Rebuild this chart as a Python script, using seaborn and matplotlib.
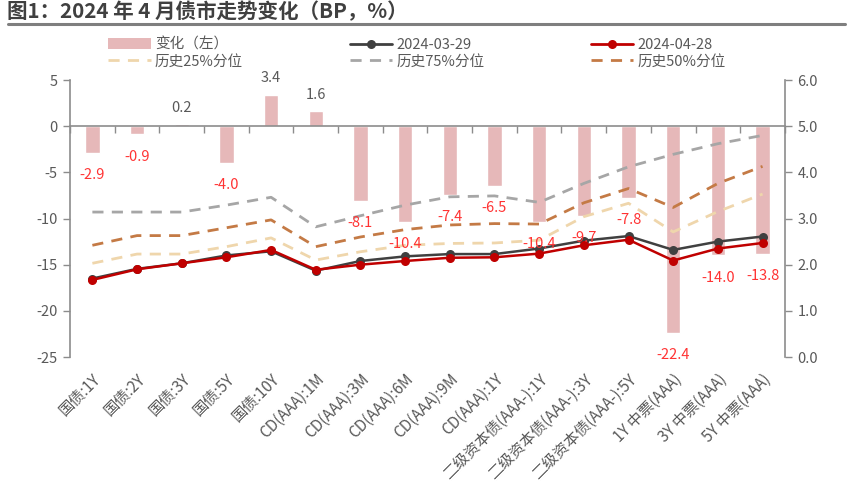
import matplotlib
matplotlib.use("Agg")
import matplotlib.pyplot as plt
import numpy as np
import pandas as pd
import seaborn as sns
from matplotlib.lines import Line2D
from matplotlib.patches import Patch
from matplotlib.ticker import FormatStrFormatter

# ---- data ----
categories = [
    "国债:1Y", "国债:2Y", "国债:3Y", "国债:5Y", "国债:10Y",
    "CD(AAA):1M", "CD(AAA):3M", "CD(AAA):6M", "CD(AAA):9M", "CD(AAA):1Y",
    "二级资本债(AAA-):1Y", "二级资本债(AAA-):3Y", "二级资本债(AAA-):5Y",
    "1Y 中票(AAA)", "3Y 中票(AAA)", "5Y 中票(AAA)",
]
change_bp = [-2.9, -0.9, 0.2, -4.0, 3.4, 1.6, -8.1, -10.4, -7.4, -6.5,
             -10.4, -9.7, -7.8, -22.4, -14.0, -13.8]
yield_0329 = [1.70, 1.91, 2.03, 2.20, 2.29, 1.87, 2.08, 2.18, 2.23, 2.23,
              2.35, 2.52, 2.62, 2.32, 2.50, 2.61]
yield_0428 = [1.67, 1.90, 2.03, 2.16, 2.32, 1.89, 2.00, 2.08, 2.15, 2.16,
              2.24, 2.42, 2.54, 2.09, 2.35, 2.47]
pct25 = [2.03, 2.23, 2.23, 2.39, 2.58, 2.10, 2.28, 2.42, 2.46, 2.47,
         2.53, 3.04, 3.33, 2.71, 3.15, 3.53]
pct75 = [3.14, 3.14, 3.14, 3.29, 3.46, 2.82, 3.06, 3.29, 3.47, 3.49,
         3.35, 3.76, 4.12, 4.39, 4.62, 4.80]
pct50 = [2.42, 2.63, 2.63, 2.80, 2.97, 2.39, 2.60, 2.76, 2.86, 2.89,
         2.88, 3.34, 3.65, 3.24, 3.76, 4.13]

BAR_C = "#E6B8B9"
DARK_C = "#404040"
RED_C = "#C00000"
P25_C = "#EFD6AC"
P75_C = "#A6A6A6"
P50_C = "#C47A45"
AXIS_C = "#8C8C8C"
TEXT_C = "#595959"

sns.set_theme(style="ticks")
plt.rcParams["font.family"] = ["Noto Sans CJK SC", "DejaVu Sans"]
plt.rcParams["axes.unicode_minus"] = False

df = pd.DataFrame({"category": categories, "change": change_bp})
idx = np.arange(len(categories))

fig = plt.figure(figsize=(8.5, 4.9), dpi=100)
ax = fig.add_axes([0.0824, 0.2714, 0.841, 0.5653])

sns.barplot(data=df, x="category", y="change", order=categories, ax=ax,
            color=BAR_C, saturation=1, width=0.32)

ax2 = ax.twinx()
dash = (0, (4, 3))
sns.lineplot(x=idx, y=pct75, ax=ax2, color=P75_C, lw=2, linestyle=dash)
sns.lineplot(x=idx, y=pct50, ax=ax2, color=P50_C, lw=2, linestyle=dash)
sns.lineplot(x=idx, y=pct25, ax=ax2, color=P25_C, lw=2, linestyle=dash)
sns.lineplot(x=idx, y=yield_0329, ax=ax2, color=DARK_C, lw=1.8,
             marker="o", markersize=6.5, markeredgewidth=0)
sns.lineplot(x=idx, y=yield_0428, ax=ax2, color=RED_C, lw=1.8,
             marker="o", markersize=6.5, markeredgewidth=0)

# bar value labels (placed in left-axis units, drawn above the lines)
for i, v in enumerate(change_bp):
    if v >= 0:
        ax2.annotate(f"{v:.1f}", xy=(i, v), xycoords=ax.transData, xytext=(0, 7),
                     textcoords="offset points", ha="center", va="bottom",
                     fontsize=10.5, color=TEXT_C)
    else:
        ax2.annotate(f"{v:.1f}", xy=(i, v), xycoords=ax.transData, xytext=(0, -16),
                     textcoords="offset points", ha="center", va="center",
                     fontsize=10.5, color="#FF3333")

# left axis
ax.set_ylim(-25, 5)
ax.set_yticks(range(-25, 6, 5))
ax.set_xlim(-0.5, len(categories) - 0.5)
ax.set_xlabel("")
ax.set_ylabel("")
ax.spines["top"].set_visible(False)
ax.spines["right"].set_visible(False)
ax.spines["bottom"].set_position(("data", 0))
for s in ("left", "bottom"):
    ax.spines[s].set_color(AXIS_C)
    ax.spines[s].set_linewidth(1.2)
ax.set_xticks(idx)
ax.set_xticks(np.arange(len(categories) + 1) - 0.5, minor=True)
ax.tick_params(axis="x", which="major", length=0, labelbottom=False)
ax.tick_params(axis="x", which="minor", length=5, width=1, color=AXIS_C, direction="out")
ax.tick_params(axis="y", length=5, width=1, color=AXIS_C, labelsize=10.5,
               labelcolor=TEXT_C, pad=4)

# right axis
ax2.set_ylim(0, 6)
ax2.set_yticks(np.arange(0, 6.1, 1))
ax2.yaxis.set_major_formatter(FormatStrFormatter("%.1f"))
ax2.set_ylabel("")
for s in ("left", "top", "bottom"):
    ax2.spines[s].set_visible(False)
ax2.spines["right"].set_color(AXIS_C)
ax2.spines["right"].set_linewidth(1.2)
ax2.tick_params(axis="y", length=5, width=1, color=AXIS_C, labelsize=10.5,
                labelcolor=TEXT_C, pad=4)

# category labels along the bottom of the plot area
ax2.xaxis.set_visible(True)
ax2.set_xticklabels(categories)
ax2.tick_params(axis="x", which="both", length=0, labelbottom=True,
                labelsize=11, labelcolor=TEXT_C, pad=10)
for lab in ax2.get_xticklabels():
    lab.set_rotation(45)
    lab.set_ha("right")
    lab.set_rotation_mode("anchor")
ax.set_xlim(-0.5, len(categories) - 0.5)

# legend
handles = [
    Patch(facecolor=BAR_C, edgecolor="none"),
    Line2D([], [], color=P25_C, lw=2, linestyle=dash),
    Line2D([], [], color=DARK_C, lw=2, marker="o", markersize=6.5, markeredgewidth=0),
    Line2D([], [], color=P75_C, lw=2, linestyle=dash),
    Line2D([], [], color=RED_C, lw=2, marker="o", markersize=6.5, markeredgewidth=0),
    Line2D([], [], color=P50_C, lw=2, linestyle=dash),
]
labels = ["变化（左）", "历史25%分位", "2024-03-29", "历史75%分位", "2024-04-28", "历史50%分位"]
leg = fig.legend(handles, labels, ncol=3, loc="upper left",
                 bbox_to_anchor=(0.112, 0.95), frameon=False, fontsize=10.5,
                 handlelength=2.9, handletextpad=0.3, columnspacing=7.3,
                 labelspacing=0.2)
for t in leg.get_texts():
    t.set_color(TEXT_C)

# title and rule
fig.text(0.008, 0.997, "图1：2024 年 4 月债市走势变化（BP，%）", fontsize=14.8,
         fontweight="bold", color="#404040", va="top", ha="left")
fig.add_artist(Line2D([0.0094, 0.994], [0.951, 0.951], transform=fig.transFigure,
                      color="#7F7F7F", lw=2.2))

fig.savefig("out.png", dpi=100)
